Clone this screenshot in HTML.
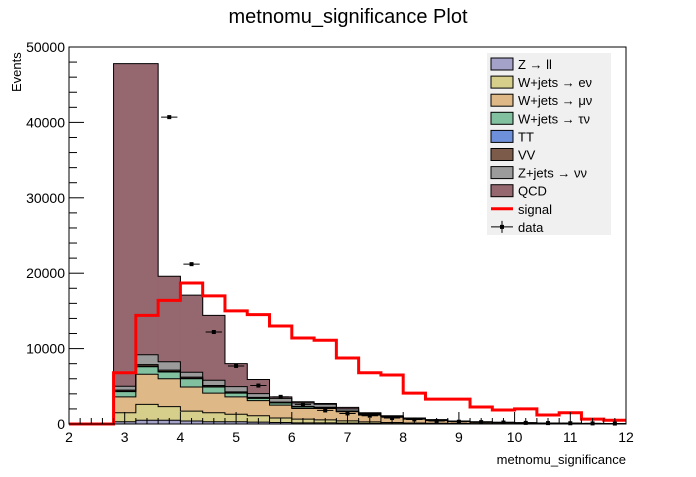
<!DOCTYPE html>
<html><head><meta charset="utf-8">
<style>
body{margin:0;background:#fff;font-family:"Liberation Sans",sans-serif;}
svg text{font-family:"Liberation Sans","DejaVu Sans",sans-serif;}
</style></head>
<body>
<svg id="chart" width="696" height="472" xmlns="http://www.w3.org/2000/svg">
<rect width="696" height="472" fill="#fff"/>
<text x="348" y="23" font-size="20" text-anchor="middle">metnomu_significance Plot</text>
<text transform="translate(21,92) rotate(-90)" font-size="13" text-anchor="start">Events</text>
<text x="626" y="464" font-size="13" text-anchor="end">metnomu_significance</text>
<g id="plot"></g>
</svg>
<script>
const binEdgesStart = 2.0;
const binWidth = 0.4;
const zll    = [0,0,300,500,500,400,300,300,250,200,150,150,120,80,50,40,30,20,15,10,10,5,5,5,5];
const wenu   = [0,0,1200,2100,1800,1300,1200,1000,850,600,500,400,300,200,150,100,70,50,40,30,20,15,10,10,5];
const wmunu  = [0,0,2100,4000,3700,3200,2600,2300,2000,1700,1400,1500,1200,900,700,500,350,250,180,140,100,80,60,40,30];
const wtaunu = [0,0,700,1000,900,1100,800,500,300,300,200,100,50,40,30,20,15,10,8,6,5,4,3,2,1];
const tt     = [0,0,50,80,70,60,50,40,30,20,20,15,10,10,5,5,5,3,2,2,1,1,1,1,0];
const vv     = [0,0,150,200,180,150,150,120,100,80,70,60,50,40,30,20,15,10,8,6,5,4,3,2,1];
const znunu  = [0,0,500,1300,1100,650,700,700,500,500,460,400,270,120,100,80,60,40,30,20,20,15,10,10,5];
const qcd    = [0,0,42800,38620,11350,10240,8600,3040,1870,200,150,100,200,100,35,30,30,20,15,10,10,5,5,5,5];
const signal = [0,0,6800,14400,16400,18700,17000,15000,14500,13000,11400,11100,8750,6800,6500,4100,3300,3300,2250,1850,2000,1200,1500,650,500];
const dataVals = [null,null,null,null,40700,21200,12200,7700,5100,3600,2600,1800,1400,1100,800,600,400,300,250,200,150,120,100,80,60];
const yTicks = [0,10000,20000,30000,40000,50000];
const xTicks = [2,3,4,5,6,7,8,9,10,11,12];
const comps = [
 {n:'Z \u2192 ll', v:zll, c:'#a4a2c8', id:'zll'},
 {n:'W+jets \u2192 e\u03bd', v:wenu, c:'#d5cf8b', id:'wenu'},
 {n:'W+jets \u2192 \u03bc\u03bd', v:wmunu, c:'#deb887', id:'wmunu'},
 {n:'W+jets \u2192 \u03c4\u03bd', v:wtaunu, c:'#82c19f', id:'wtaunu'},
 {n:'TT', v:tt, c:'#6e8fd9', id:'tt'},
 {n:'VV', v:vv, c:'#7c5b4a', id:'vv'},
 {n:'Z+jets \u2192 \u03bd\u03bd', v:znunu, c:'#9b9b9b', id:'znunu'},
 {n:'QCD', v:qcd, c:'#95676f', id:'qcd'}
];
const X0=69,X1=626,Y0=424,Y1=47;
const xs=v=>X0+(v-2)/(12-2)*(X1-X0);
const ys=v=>Y0-(v/50000)*(Y0-Y1);
const NS='http://www.w3.org/2000/svg';
const g=document.getElementById('plot');
function mk(t,a){const e=document.createElementNS(NS,t);for(const k in a)e.setAttribute(k,a[k]);g.appendChild(e);return e;}
const nb=signal.length;
const base=new Array(nb).fill(0);
const tops=[];
comps.forEach(c=>{
  const top=[];
  for(let i=0;i<nb;i++){
    const v=c.v[i];
    const a=binEdgesStart+i*binWidth, b=a+binWidth;
    if(v>0){
      const r=mk('rect',{x:xs(a),y:ys(base[i]+v),width:xs(b)-xs(a)+0.5,height:ys(base[i])-ys(base[i]+v),fill:c.c});
      
      
    }
    base[i]+=v; top.push(base[i]);
  }
  tops.push(top);
});
// outlines (ROOT-style step outlines)
tops.forEach((top,k)=>{
  let d='M'+xs(binEdgesStart)+','+ys(0);
  for(let i=0;i<nb;i++){
    const a=binEdgesStart+i*binWidth,b=a+binWidth;
    d+=' L'+xs(a)+','+ys(top[i])+' L'+xs(b)+','+ys(top[i]);
  }
  d+=' L'+xs(binEdgesStart+nb*binWidth)+','+ys(0);
  const p=mk('path',{d:d,fill:'none',stroke:'#000','stroke-width':1});
  
  
});
let d='';
for(let i=0;i<nb;i++){
  const a=binEdgesStart+i*binWidth,b=a+binWidth;
  d+=(i===0?'M':'L')+xs(a)+','+ys(signal[i])+' L'+xs(b)+','+ys(signal[i])+' ';
}
const sl=mk('path',{d:d,fill:'none',stroke:'#ff0000','stroke-width':3});


for(let i=0;i<nb;i++){
  const v=dataVals[i]; if(v==null) continue;
  const a=binEdgesStart+i*binWidth,b=a+binWidth,cx=(xs(a)+xs(b))/2,cy=ys(v);
  const p=mk('g',{});
  
  
  const l=document.createElementNS(NS,'line');
  l.setAttribute('x1',xs(a)+3);l.setAttribute('x2',xs(b)-3);l.setAttribute('y1',cy);l.setAttribute('y2',cy);l.setAttribute('stroke','#000');
  p.appendChild(l);
  const r=document.createElementNS(NS,'rect');
  r.setAttribute('x',cx-2);r.setAttribute('y',cy-2);r.setAttribute('width',4);r.setAttribute('height',4);r.setAttribute('fill','#000');
  p.appendChild(r);
}
const fr=mk('rect',{x:X0,y:Y1,width:X1-X0,height:Y0-Y1,fill:'none',stroke:'#000','stroke-width':1});


for(let v=0;v<=50000;v+=2000){
  const major=v%10000===0;
  mk('line',{x1:X0,x2:X0+(major?15:8),y1:ys(v),y2:ys(v),stroke:'#000'});
}
yTicks.forEach(v=>{
  const t=mk('text',{x:X0-4,y:ys(v)+5,'font-size':14,'text-anchor':'end'});
  t.textContent=v;
  
  
});
for(let k=0;k<=50;k++){
  const v=2+k*0.2, major=k%5===0;
  mk('line',{x1:xs(v),x2:xs(v),y1:Y0,y2:Y0-(major?12:6),stroke:'#000'});
}
xTicks.forEach(v=>{
  const t=mk('text',{x:xs(v),y:Y0+18,'font-size':14,'text-anchor':'middle'});
  t.textContent=v;
  
  
});
const lg=mk('rect',{x:487,y:53,width:124,height:182,fill:'#f0f0f0'});


const entries=comps.map(c=>({n:c.n,c:c.c,t:'box'})).concat([{n:'signal',t:'line'},{n:'data',t:'data'}]);
entries.forEach((e,i)=>{
  const cy=64+i*18.1;
  if(e.t==='box'){mk('rect',{x:491,y:cy-6,width:22,height:12,fill:e.c,stroke:'#000'});}
  else if(e.t==='line'){mk('line',{x1:491,x2:513,y1:cy,y2:cy,stroke:'#ff0000','stroke-width':3});}
  else{mk('line',{x1:491,x2:513,y1:cy,y2:cy,stroke:'#000'});mk('line',{x1:502,x2:502,y1:cy-6,y2:cy+6,stroke:'#000'});mk('rect',{x:500,y:cy-2,width:4,height:4,fill:'#000'});}
  const t=mk('text',{x:518,y:cy+5,'font-size':13});
  t.textContent=e.n;
  
  
});
</script>
</body></html>
